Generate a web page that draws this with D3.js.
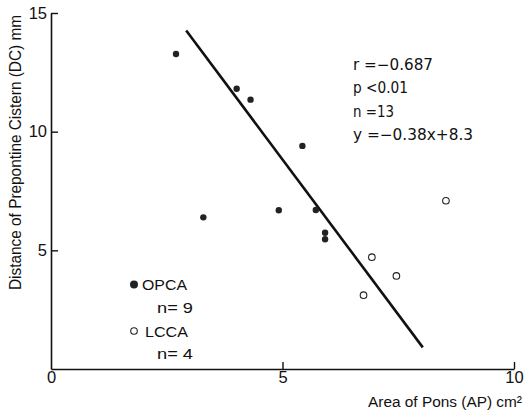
<!DOCTYPE html>
<html>
<head>
<meta charset="utf-8">
<script src="https://cdn.jsdelivr.net/npm/d3@7"></script>
<style>
  body { margin: 0; background: #fff; }
  svg { display: block; }
  text { font-family: "Liberation Sans Narrow", "Liberation Sans", Arial, sans-serif; fill: #111; }
</style>
</head>
<body>
<svg id="chart" width="524" height="412"></svg>
<script>
// OPCA (filled) and LCCA (open) cases
var opcaX = [2.70, 4.01, 4.31, 5.43, 3.29, 4.92, 5.72, 5.92, 5.92];
var opcaY = [13.27, 11.81, 11.35, 9.40, 6.39, 6.69, 6.70, 5.74, 5.47];
var lccaX = [8.53, 6.93, 7.46, 6.75];
var lccaY = [7.09, 4.71, 3.92, 3.11];

// regression line as drawn
var fitX = [2.92, 8.03];
var fitY = [14.26, 0.91];

var xTicks = [0, 5, 10];
var yTicks = [5, 10, 15];
var statLines = ["r =\u22120.687", "p <0.01", "n =13", "y =\u22120.38x+8.3"];
var statWidths = [80, 55, 41, 120];
var legendNames = ["OPCA", "LCCA"];
var legendCounts = ["n= 9", "n= 4"];

var svg = d3.select("#chart");

var x = d3.scaleLinear().domain([0, 10]).range([51, 514]);
var y = d3.scaleLinear().domain([0, 15]).range([369, 13]);

// axes
var xAxis = d3.axisBottom(x).tickValues(xTicks).tickSizeInner(-7).tickSizeOuter(0).tickPadding(2);
var yAxis = d3.axisLeft(y).tickValues(yTicks).tickSizeInner(-7).tickSizeOuter(0).tickPadding(4);

var gx = svg.append("g").attr("transform", "translate(0," + y(0) + ")").call(xAxis);
var gy = svg.append("g").attr("transform", "translate(" + x(0) + ",0)").call(yAxis);

[gx, gy].forEach(function(g){
  g.select(".domain").attr("stroke", "#111").attr("stroke-width", 1.6);
  g.selectAll(".tick line").attr("stroke", "#111").attr("stroke-width", 1.4);
  g.selectAll(".tick text").style("font-size", "16.5px").attr("fill", "#111")
    .style("font-family", "'Liberation Sans Narrow', 'Liberation Sans', Arial, sans-serif");
});
gx.selectAll(".tick").filter(function(d){ return d == 0; }).select("line").remove();

// axis titles
svg.append("text")
  .attr("transform", "translate(21,290) rotate(-90)")
  .attr("textLength", 275)
  .attr("lengthAdjust", "spacingAndGlyphs")
  .style("font-size", "16px")
  .text("Distance of Prepontine Cistern (DC) mm");

svg.append("text")
  .attr("x", 368).attr("y", 406.5)
  .attr("textLength", 154)
  .attr("lengthAdjust", "spacingAndGlyphs")
  .style("font-size", "15.5px")
  .text("Area of Pons (AP) cm\u00b2");

// regression line
svg.append("line")
  .attr("x1", x(fitX[0])).attr("y1", y(fitY[0]))
  .attr("x2", x(fitX[1])).attr("y2", y(fitY[1]))
  .attr("stroke", "#111")
  .attr("stroke-width", 2.6);

// points
svg.append("g").selectAll("circle")
  .data(d3.range(opcaX.length))
  .enter()
  .append("circle")
  .attr("cx", function(i){ return x(opcaX[i]); })
  .attr("cy", function(i){ return y(opcaY[i]); })
  .attr("r", 3.2)
  .attr("fill", "#222");

svg.append("g").selectAll("circle")
  .data(d3.range(lccaX.length))
  .enter()
  .append("circle")
  .attr("cx", function(i){ return x(lccaX[i]); })
  .attr("cy", function(i){ return y(lccaY[i]); })
  .attr("r", 3.3)
  .attr("fill", "#fff")
  .attr("stroke", "#222")
  .attr("stroke-width", 1.1);

// stats text
svg.append("g").selectAll("text")
  .data(statLines)
  .enter()
  .append("text")
  .attr("x", 353)
  .attr("y", function(d, i){ return 70 + i * 23.3; })
  .attr("textLength", function(d, i){ return statWidths[i]; })
  .attr("lengthAdjust", "spacingAndGlyphs")
  .style("font-size", "15px")
  .style("font-family", "'DejaVu Sans', sans-serif")
  .text(function(d){ return d; });

// legend
var leg = svg.append("g");
leg.append("circle").attr("cx", 134).attr("cy", 284.5).attr("r", 4).attr("fill", "#222");
leg.append("circle").attr("cx", 134).attr("cy", 331).attr("r", 3.3)
  .attr("fill", "#fff").attr("stroke", "#222").attr("stroke-width", 1.1);
leg.selectAll("text.name")
  .data(legendNames)
  .enter()
  .append("text")
  .attr("class", "name")
  .attr("x", function(d, i){ return i == 0 ? 142 : 145; })
  .attr("y", function(d, i){ return 289.5 + i * 47; })
  .attr("textLength", function(d, i){ return i == 0 ? 45 : 43; })
  .attr("lengthAdjust", "spacingAndGlyphs")
  .style("font-size", "15px")
  .text(function(d){ return d; });
leg.selectAll("text.count")
  .data(legendCounts)
  .enter()
  .append("text")
  .attr("class", "count")
  .attr("x", 157)
  .attr("y", function(d, i){ return 312.5 + i * 46; })
  .attr("textLength", 36)
  .attr("lengthAdjust", "spacingAndGlyphs")
  .style("font-size", "15px")
  .text(function(d){ return d; });
</script>
</body>
</html>
